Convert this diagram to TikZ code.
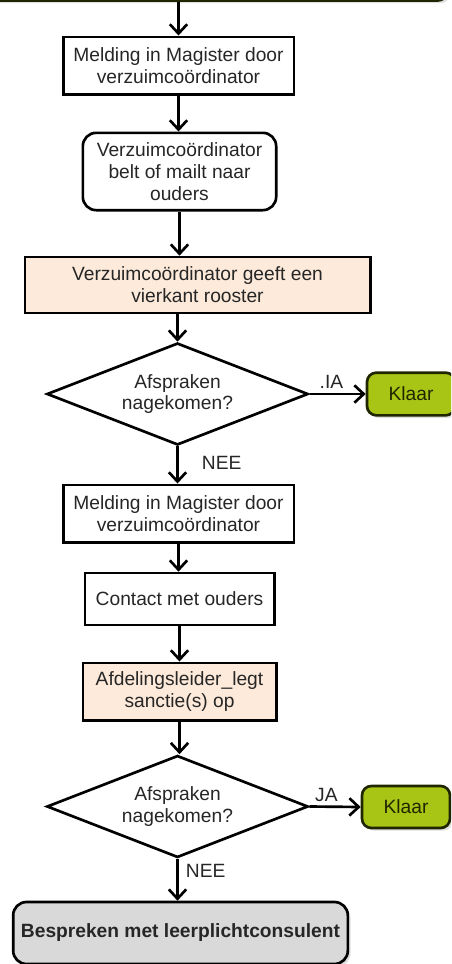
\documentclass[tikz,border=0pt]{standalone}
\usepackage{fontspec}
\setmainfont{Liberation Sans}
\usepackage{xcolor}
\usepackage{tikz}
\usetikzlibrary{positioning}
\usetikzlibrary{arrows.meta,shapes.geometric,shadows}
\definecolor{peach}{HTML}{FDEADA}
\definecolor{klaargreen}{HTML}{A8C414}
\definecolor{klaarline}{HTML}{1F2600}
\definecolor{consultgray}{HTML}{D9D9D9}
\tikzset{edge/.style = {->,> = {Straight Barb[length=7pt,width=13pt]},line width=2pt}}

\begin{document}
\begin{tikzpicture}[x=0.75pt,y=-0.75pt,line width=2pt,
    every node/.style={font=\fontsize{14.4}{16.4}\selectfont,text=black!85},
    box/.style={rectangle,draw,align=center,inner sep=2pt},
    round box/.style={box,rounded corners=10pt},
    decision/.style={diamond,draw,align=center,aspect=2.56,inner sep=0pt,minimum width=196pt,minimum height=76.5pt},
    klaar/.style={rectangle,draw=klaarline,fill=klaargreen,rounded corners=7pt,text=klaarline,
        minimum width=66pt,minimum height=32pt,drop shadow={opacity=0.25,shadow xshift=2pt,shadow yshift=-2pt}}]
\useasboundingbox (0,0) rectangle (451,964);
\clip (0,0) rectangle (451,964);

\node[klaar,minimum width=343pt,minimum height=48pt] (start) at (218.5,-31.5) {};
\node[box,minimum width=173pt,minimum height=43pt] (melding1) at (178.5,65.5) {Melding in Magister door\\verzuimcoördinator};
\node[round box,minimum width=145pt,minimum height=58pt] (verzuim) at (179.5,171.5) {Verzuimcoördinator\\belt of mailt naar\\ouders};
\node[box,fill=peach,minimum width=259pt,minimum height=42pt] (rooster) at (197.5,285) {Verzuimcoördinator geeft een\\vierkant rooster};
\node[decision,fill=white] (afspraak1) at (177.5,394) {Afspraken\\nagekomen?};
\node[klaar] (klaar1) at (411,394) {Klaar};
\node[box,minimum width=173pt,minimum height=43pt] (melding2) at (178.5,513.5) {Melding in Magister door\\verzuimcoördinator};
\node[box,minimum width=142pt,minimum height=39pt] (contact) at (179.5,599) {Contact met ouders};
\node[box,fill=peach,minimum width=145pt,minimum height=43pt] (sanctie) at (179.5,691.5) {Afdelingsleider\_legt\\sanctie(s) op};
\node[decision,fill=white] (afspraak2) at (177.5,806.5) {Afspraken\\nagekomen?};
\node[klaar,minimum height=31.5pt] (klaar2) at (406,807) {Klaar};
\node[round box,fill=consultgray,minimum width=251pt,minimum height=46.5pt,font=\fontsize{14.4}{16.4}\selectfont\bfseries,
    drop shadow={opacity=0.25,shadow xshift=2pt,shadow yshift=-2pt}] (consult) at (180.5,933) {Bespreken met leerplichtconsulent};

\draw[edge] (melding1.north |- start.south) -- (melding1.north);
\draw[edge] (melding1.south) -- (melding1.south |- verzuim.north);
\draw[edge] (verzuim.south) -- (verzuim.south |- rooster.north);
\draw[edge] (afspraak1.north |- rooster.south) -- (afspraak1.north);
\draw[edge] (afspraak1.east) -- node[above,pos=0.39,inner sep=3pt] {.IA} (klaar1.west);
\draw[edge] (afspraak1.south) -- node[right,xshift=14pt,pos=0.45] {NEE} (afspraak1.south |- melding2.north);
\draw[edge] (melding2.south) -- (melding2.south |- contact.north);
\draw[edge] (contact.south) -- (contact.south |- sanctie.north);
\draw[edge] (sanctie.south) -- (sanctie.south |- afspraak2.north);
\draw[edge] (afspraak2.east) -- node[above,pos=0.33,inner sep=3pt] {JA} (klaar2.west);
\draw[edge] (afspraak2.south) -- node[right,xshift=2pt,pos=0.28] {NEE} (afspraak2.south |- consult.north);
\end{tikzpicture}
\end{document}
